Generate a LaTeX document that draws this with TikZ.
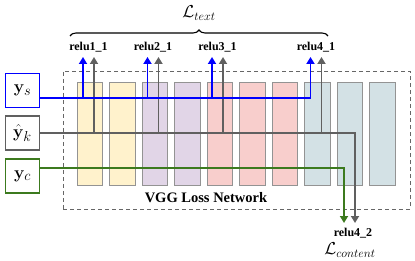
\documentclass[tikz,border=0pt]{standalone}
\usepackage{amsmath}
\usepackage{amssymb}
\usepackage[no-math]{fontspec}
\setmainfont{Liberation Serif}
\usepackage{xcolor}
\usepackage{tikz}
\usetikzlibrary{arrows.meta,positioning,decorations.pathreplacing,calc}

\definecolor{cyel}{HTML}{FFF2CC}
\definecolor{clav}{HTML}{E1D5E7}
\definecolor{cpink}{HTML}{F8CECC}
\definecolor{cteal}{HTML}{D3E1E5}
\definecolor{ygreen}{HTML}{3C7A1E}
\definecolor{ygray}{HTML}{606060}

\begin{document}
\begin{tikzpicture}[
  x=1pt, y=1pt,
  inbox/.style={draw=#1, line width=1.6pt, minimum width=34pt, minimum height=34pt, inner sep=0pt, fill=white, font=\fontsize{19}{19}\selectfont},
  layer/.style={draw=gray!85, line width=1pt, minimum width=25.5pt, minimum height=102pt, inner sep=0pt},
  lbl/.style={font=\fontsize{12}{12}\selectfont\bfseries, inner sep=0pt},
  loss/.style={font=\fontsize{17}{17}\selectfont, inner sep=0pt},
  arr/.style={-{Triangle[length=7pt,width=8pt]}, line width=1.7pt}
]
\useasboundingbox (0,0) rectangle (415,260);

\node[draw=gray!80!black, dashed, line width=0.9pt, dash pattern=on 4pt off 3pt, minimum width=347pt, minimum height=138pt] (net) at (236.5,120) {};
\foreach \i/\c in {1/cyel,2/cyel,3/clav,4/clav,5/cpink,6/cpink,7/cpink,8/cteal,9/cteal,10/cteal}
  \node[layer, fill=\c] (l\i) at ({57.25+32.5*\i},126) {};
\node[font=\fontsize{14.5}{14.5}\selectfont\bfseries, inner sep=0pt] (netname) at (206,62) {VGG Loss Network};

\node[inbox=blue] (ys) at (22.5,169.5) {$\mathbf{y}_s$};
\node[inbox=ygray] (yk) at (22.5,127) {$\hat{\mathbf{y}}_k$};
\node[inbox=ygreen] (yc) at (22.5,84) {$\mathbf{y}_c$};

\foreach \n/\x/\t in {11/88.5/relu1\_1, 21/153/relu2\_1, 31/217.5/relu3\_1, 41/316/relu4\_1} {
  \node[lbl] (r\n) at (\x,213) {\t};
  \coordinate (b\n) at (\x-5.5,203);
  \coordinate (g\n) at (\x+5.5,203);
}
\node[lbl] (r42) at (353,27) {relu4\_2};
\node[loss] (lcontent) at (350,10) {$\mathcal{L}_{content}$};
\node[loss] (ltext) at (199,247) {$\mathcal{L}_{text}$};
\coordinate (b42) at (344,37);
\coordinate (g42) at (355,37);

\coordinate (srow) at ([yshift=-7.5pt]ys.east);
\coordinate (krow) at (yk.east);
\coordinate (crow) at ([yshift=8pt]yc.east);

\draw[arr, ygreen] (crow) -| (b42);
\draw[arr, ygray] (krow) -| (g42);
\foreach \n in {11,21,31,41}
  \draw[arr, ygray] (g\n |- krow) -- (g\n);
\draw[arr, blue] (srow) -| (b41);
\foreach \n in {11,21,31}
  \draw[arr, blue] (b\n |- srow) -- (b\n);

\coordinate (bl) at (70,224);
\coordinate (br) at (328,224);
\draw[decorate, decoration={brace, amplitude=6pt}, line width=1.1pt] (bl) -- (br);
\end{tikzpicture}
\end{document}
